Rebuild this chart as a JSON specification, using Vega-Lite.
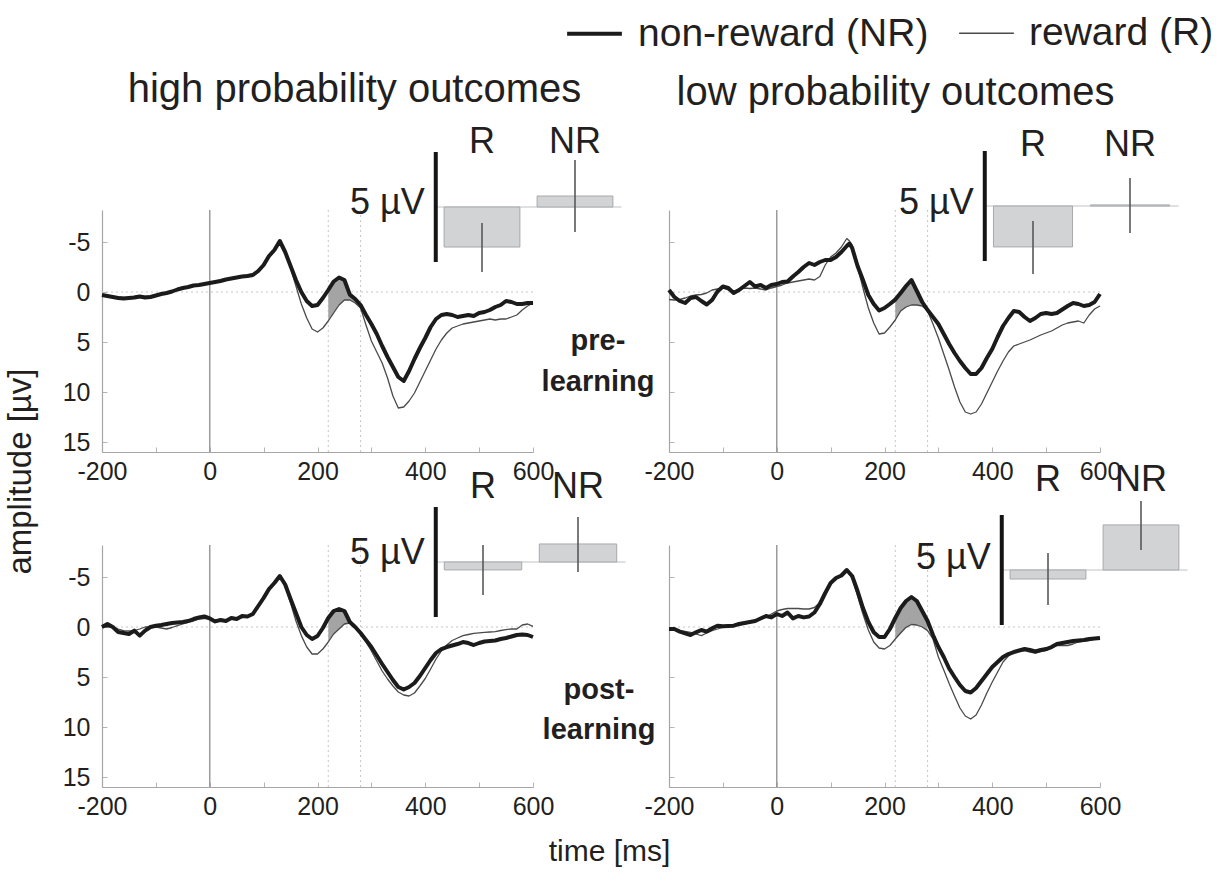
{
  "$schema": "https://vega.github.io/schema/vega-lite/v6.json",
  "background": "white",
  "padding": {"left": 5, "top": 4, "right": 5, "bottom": 0},
  "title": {"text": "time [ms]", "orient": "bottom", "anchor": "middle", "fontSize": 30, "fontWeight": "normal", "offset": 18},
  "datasets": {
    "win": [{"t": 220}, {"t": 280}],
    "insets": [
      {"panel": "TL", "cond": "R", "mean": 1.82, "lo": 0.73, "hi": 2.95},
      {"panel": "TL", "cond": "NR", "mean": -0.5, "lo": -2.14, "hi": 1.14},
      {"panel": "TR", "cond": "R", "mean": 1.86, "lo": 0.68, "hi": 3.09},
      {"panel": "TR", "cond": "NR", "mean": -0.05, "lo": -1.27, "hi": 1.23},
      {"panel": "BL", "cond": "R", "mean": 0.36, "lo": -0.77, "hi": 1.5},
      {"panel": "BL", "cond": "NR", "mean": -0.82, "lo": -2.05, "hi": 0.45},
      {"panel": "BR", "cond": "R", "mean": 0.41, "lo": -0.77, "hi": 1.59},
      {"panel": "BR", "cond": "NR", "mean": -2.05, "lo": -3.14, "hi": -0.91}
    ],
    "TL": [
      {"t": -200, "NR": 0.3, "R": 0.3}, {"t": -190, "NR": 0.4, "R": 0.4}, {"t": -180, "NR": 0.5, "R": 0.5}, {"t": -170, "NR": 0.6, "R": 0.5},
      {"t": -160, "NR": 0.65, "R": 0.55}, {"t": -150, "NR": 0.6, "R": 0.55}, {"t": -140, "NR": 0.55, "R": 0.45}, {"t": -130, "NR": 0.45, "R": 0.4},
      {"t": -120, "NR": 0.55, "R": 0.45}, {"t": -110, "NR": 0.5, "R": 0.4}, {"t": -100, "NR": 0.35, "R": 0.3}, {"t": -90, "NR": 0.2, "R": 0.15},
      {"t": -80, "NR": 0.1, "R": 0.05}, {"t": -70, "NR": -0.05, "R": -0.1}, {"t": -60, "NR": -0.25, "R": -0.25}, {"t": -50, "NR": -0.4, "R": -0.35},
      {"t": -40, "NR": -0.5, "R": -0.5}, {"t": -30, "NR": -0.65, "R": -0.6}, {"t": -20, "NR": -0.7, "R": -0.7}, {"t": -10, "NR": -0.8, "R": -0.8},
      {"t": 0, "NR": -0.9, "R": -0.9}, {"t": 10, "NR": -1.0, "R": -1.05}, {"t": 20, "NR": -1.1, "R": -1.2}, {"t": 30, "NR": -1.25, "R": -1.3},
      {"t": 40, "NR": -1.35, "R": -1.4}, {"t": 50, "NR": -1.45, "R": -1.5}, {"t": 60, "NR": -1.55, "R": -1.6}, {"t": 70, "NR": -1.6, "R": -1.7},
      {"t": 80, "NR": -1.7, "R": -1.8}, {"t": 90, "NR": -2.1, "R": -2.2}, {"t": 100, "NR": -2.7, "R": -2.8}, {"t": 110, "NR": -3.6, "R": -3.6},
      {"t": 120, "NR": -4.2, "R": -4.3}, {"t": 130, "NR": -5.1, "R": -5.0}, {"t": 140, "NR": -4.0, "R": -4.0}, {"t": 150, "NR": -2.6, "R": -2.4},
      {"t": 160, "NR": -1.2, "R": -0.6}, {"t": 170, "NR": 0.0, "R": 1.2}, {"t": 180, "NR": 0.9, "R": 2.6}, {"t": 190, "NR": 1.4, "R": 3.7},
      {"t": 200, "NR": 1.3, "R": 4.0}, {"t": 210, "NR": 0.6, "R": 3.6}, {"t": 220, "NR": -0.2, "R": 2.9}, {"t": 230, "NR": -1.05, "R": 2.1},
      {"t": 240, "NR": -1.45, "R": 1.3}, {"t": 250, "NR": -1.2, "R": 0.8}, {"t": 260, "NR": 0.26, "R": 0.8}, {"t": 270, "NR": 0.7, "R": 1.1},
      {"t": 280, "NR": 1.3, "R": 1.6}, {"t": 290, "NR": 2.3, "R": 3.3}, {"t": 300, "NR": 3.2, "R": 4.9}, {"t": 310, "NR": 4.2, "R": 6.0},
      {"t": 320, "NR": 5.4, "R": 7.1}, {"t": 330, "NR": 6.5, "R": 8.6}, {"t": 340, "NR": 7.5, "R": 10.4}, {"t": 350, "NR": 8.5, "R": 11.6},
      {"t": 360, "NR": 8.9, "R": 11.5}, {"t": 370, "NR": 7.9, "R": 10.9}, {"t": 380, "NR": 6.7, "R": 10.1}, {"t": 390, "NR": 5.6, "R": 9.0},
      {"t": 400, "NR": 4.6, "R": 7.9}, {"t": 410, "NR": 3.5, "R": 6.8}, {"t": 420, "NR": 2.7, "R": 5.7}, {"t": 430, "NR": 2.3, "R": 4.8},
      {"t": 440, "NR": 2.2, "R": 4.1}, {"t": 450, "NR": 2.3, "R": 3.6}, {"t": 460, "NR": 2.5, "R": 3.4}, {"t": 470, "NR": 2.4, "R": 3.2},
      {"t": 480, "NR": 2.3, "R": 3.1}, {"t": 490, "NR": 2.4, "R": 3.0}, {"t": 500, "NR": 2.1, "R": 2.9}, {"t": 510, "NR": 2.0, "R": 2.8},
      {"t": 520, "NR": 1.8, "R": 2.7}, {"t": 530, "NR": 1.5, "R": 2.8}, {"t": 540, "NR": 1.3, "R": 2.7}, {"t": 550, "NR": 0.9, "R": 2.7},
      {"t": 560, "NR": 1.0, "R": 2.5}, {"t": 570, "NR": 1.2, "R": 2.3}, {"t": 580, "NR": 1.2, "R": 1.8}, {"t": 590, "NR": 1.1, "R": 1.4},
      {"t": 600, "NR": 1.1, "R": 1.1}
    ],
    "TR": [
      {"t": -200, "NR": -0.2, "R": 0.75}, {"t": -190, "NR": 0.5, "R": 0.8}, {"t": -180, "NR": 0.9, "R": 0.75}, {"t": -170, "NR": 1.1, "R": 0.6},
      {"t": -160, "NR": 0.6, "R": 0.4}, {"t": -150, "NR": 0.5, "R": 0.3}, {"t": -140, "NR": 0.9, "R": 0.25}, {"t": -130, "NR": 1.25, "R": 0.1},
      {"t": -120, "NR": 0.8, "R": -0.2}, {"t": -110, "NR": -0.05, "R": -0.3}, {"t": -100, "NR": -0.55, "R": -0.4}, {"t": -90, "NR": -0.4, "R": -0.2},
      {"t": -80, "NR": 0.1, "R": -0.05}, {"t": -70, "NR": -0.2, "R": -0.3}, {"t": -60, "NR": -0.6, "R": -0.4}, {"t": -50, "NR": -1.0, "R": -0.35},
      {"t": -40, "NR": -0.55, "R": -0.4}, {"t": -30, "NR": -0.7, "R": -0.3}, {"t": -20, "NR": -0.4, "R": -0.2}, {"t": -10, "NR": -0.7, "R": -0.4},
      {"t": 0, "NR": -0.8, "R": -0.55}, {"t": 10, "NR": -1.0, "R": -0.7}, {"t": 20, "NR": -1.05, "R": -0.9}, {"t": 30, "NR": -1.55, "R": -1.0},
      {"t": 40, "NR": -2.0, "R": -1.1}, {"t": 50, "NR": -2.5, "R": -1.2}, {"t": 60, "NR": -2.9, "R": -1.3}, {"t": 70, "NR": -2.7, "R": -1.2},
      {"t": 80, "NR": -3.0, "R": -1.55}, {"t": 90, "NR": -3.2, "R": -2.7}, {"t": 100, "NR": -3.2, "R": -3.5}, {"t": 110, "NR": -3.5, "R": -3.9},
      {"t": 120, "NR": -4.0, "R": -4.5}, {"t": 130, "NR": -4.6, "R": -5.35}, {"t": 135, "NR": -4.85, "R": -5.1}, {"t": 140, "NR": -4.4, "R": -4.7},
      {"t": 150, "NR": -2.6, "R": -2.5}, {"t": 160, "NR": -1.2, "R": -0.4}, {"t": 170, "NR": 0.3, "R": 1.6}, {"t": 180, "NR": 1.2, "R": 3.1},
      {"t": 190, "NR": 1.85, "R": 4.2}, {"t": 200, "NR": 1.6, "R": 4.1}, {"t": 210, "NR": 1.2, "R": 3.5}, {"t": 220, "NR": 0.76, "R": 2.8},
      {"t": 230, "NR": 0.1, "R": 1.9}, {"t": 240, "NR": -0.6, "R": 1.5}, {"t": 250, "NR": -1.2, "R": 1.3}, {"t": 260, "NR": -0.1, "R": 1.3},
      {"t": 270, "NR": 1.0, "R": 1.4}, {"t": 280, "NR": 1.8, "R": 1.9}, {"t": 290, "NR": 2.5, "R": 3.2}, {"t": 300, "NR": 3.2, "R": 4.6},
      {"t": 310, "NR": 4.2, "R": 6.2}, {"t": 320, "NR": 5.2, "R": 7.8}, {"t": 330, "NR": 6.1, "R": 9.5}, {"t": 340, "NR": 6.9, "R": 11.0},
      {"t": 350, "NR": 7.6, "R": 12.0}, {"t": 360, "NR": 8.2, "R": 12.2}, {"t": 370, "NR": 8.2, "R": 12.0}, {"t": 380, "NR": 7.6, "R": 11.2},
      {"t": 390, "NR": 6.6, "R": 10.1}, {"t": 400, "NR": 5.7, "R": 9.0}, {"t": 410, "NR": 4.5, "R": 7.9}, {"t": 420, "NR": 3.4, "R": 6.9},
      {"t": 430, "NR": 2.6, "R": 6.0}, {"t": 440, "NR": 1.9, "R": 5.4}, {"t": 450, "NR": 2.0, "R": 5.2}, {"t": 460, "NR": 2.5, "R": 5.0},
      {"t": 470, "NR": 2.9, "R": 4.8}, {"t": 480, "NR": 2.6, "R": 4.55}, {"t": 490, "NR": 2.2, "R": 4.3}, {"t": 500, "NR": 2.1, "R": 4.1},
      {"t": 510, "NR": 2.2, "R": 3.9}, {"t": 520, "NR": 2.1, "R": 3.6}, {"t": 530, "NR": 1.75, "R": 3.3}, {"t": 540, "NR": 1.4, "R": 3.1},
      {"t": 550, "NR": 1.1, "R": 3.0}, {"t": 560, "NR": 1.2, "R": 2.9}, {"t": 570, "NR": 1.4, "R": 3.1}, {"t": 580, "NR": 1.3, "R": 2.3},
      {"t": 590, "NR": 1.0, "R": 1.7}, {"t": 600, "NR": 0.2, "R": 1.4}
    ],
    "BL": [
      {"t": -200, "NR": 0.0, "R": 0.0}, {"t": -190, "NR": -0.3, "R": 0.0}, {"t": -180, "NR": 0.0, "R": 0.0}, {"t": -170, "NR": 0.5, "R": 0.2},
      {"t": -160, "NR": 0.6, "R": 0.36}, {"t": -150, "NR": 0.7, "R": 0.4}, {"t": -140, "NR": 0.36, "R": 0.36}, {"t": -130, "NR": 0.86, "R": 0.2},
      {"t": -120, "NR": 0.36, "R": 0.0}, {"t": -110, "NR": 0.0, "R": 0.0}, {"t": -100, "NR": -0.13, "R": 0.0}, {"t": -90, "NR": -0.2, "R": 0.1},
      {"t": -80, "NR": -0.3, "R": 0.2}, {"t": -70, "NR": -0.4, "R": 0.05}, {"t": -60, "NR": -0.46, "R": -0.13}, {"t": -50, "NR": -0.5, "R": -0.3},
      {"t": -40, "NR": -0.6, "R": -0.46}, {"t": -30, "NR": -0.8, "R": -0.6}, {"t": -20, "NR": -0.95, "R": -0.8}, {"t": -10, "NR": -1.05, "R": -0.85},
      {"t": 0, "NR": -0.86, "R": -0.86}, {"t": 10, "NR": -0.56, "R": -0.7}, {"t": 20, "NR": -0.7, "R": -0.6}, {"t": 30, "NR": -0.6, "R": -0.7},
      {"t": 40, "NR": -0.9, "R": -0.8}, {"t": 50, "NR": -0.8, "R": -0.9}, {"t": 60, "NR": -1.1, "R": -0.95}, {"t": 70, "NR": -1.05, "R": -1.1},
      {"t": 80, "NR": -1.3, "R": -1.3}, {"t": 90, "NR": -2.1, "R": -1.95}, {"t": 100, "NR": -2.9, "R": -3.1}, {"t": 110, "NR": -3.8, "R": -3.9},
      {"t": 120, "NR": -4.4, "R": -4.4}, {"t": 130, "NR": -5.1, "R": -5.0}, {"t": 140, "NR": -4.25, "R": -4.1}, {"t": 150, "NR": -2.8, "R": -2.4},
      {"t": 160, "NR": -1.4, "R": -0.6}, {"t": 170, "NR": 0.0, "R": 0.86}, {"t": 180, "NR": 0.8, "R": 2.0}, {"t": 190, "NR": 1.2, "R": 2.7},
      {"t": 200, "NR": 0.9, "R": 2.7}, {"t": 210, "NR": 0.1, "R": 2.2}, {"t": 220, "NR": -0.9, "R": 1.5}, {"t": 230, "NR": -1.6, "R": 0.7},
      {"t": 240, "NR": -1.8, "R": 0.2}, {"t": 250, "NR": -1.6, "R": -0.3}, {"t": 260, "NR": -0.5, "R": -0.4}, {"t": 270, "NR": 0.0, "R": 0.1},
      {"t": 280, "NR": 0.6, "R": 0.7}, {"t": 290, "NR": 1.3, "R": 1.5}, {"t": 300, "NR": 2.0, "R": 2.4}, {"t": 310, "NR": 2.85, "R": 3.4},
      {"t": 320, "NR": 3.7, "R": 4.4}, {"t": 330, "NR": 4.5, "R": 5.2}, {"t": 340, "NR": 5.3, "R": 5.9}, {"t": 350, "NR": 6.0, "R": 6.5},
      {"t": 360, "NR": 6.25, "R": 6.8}, {"t": 370, "NR": 6.0, "R": 6.9}, {"t": 380, "NR": 5.6, "R": 6.6}, {"t": 390, "NR": 4.9, "R": 5.9},
      {"t": 400, "NR": 4.1, "R": 5.15}, {"t": 410, "NR": 3.3, "R": 4.2}, {"t": 420, "NR": 2.6, "R": 3.2}, {"t": 430, "NR": 2.2, "R": 2.4},
      {"t": 440, "NR": 2.0, "R": 1.8}, {"t": 450, "NR": 1.85, "R": 1.35}, {"t": 460, "NR": 1.7, "R": 1.1}, {"t": 470, "NR": 1.5, "R": 0.86},
      {"t": 480, "NR": 1.6, "R": 0.75}, {"t": 490, "NR": 1.8, "R": 0.63}, {"t": 500, "NR": 1.6, "R": 0.58}, {"t": 510, "NR": 1.45, "R": 0.53},
      {"t": 520, "NR": 1.4, "R": 0.5}, {"t": 530, "NR": 1.35, "R": 0.46}, {"t": 540, "NR": 1.2, "R": 0.35}, {"t": 550, "NR": 1.1, "R": 0.26},
      {"t": 560, "NR": 0.95, "R": 0.2}, {"t": 570, "NR": 0.8, "R": 0.2}, {"t": 580, "NR": 0.75, "R": -0.2}, {"t": 590, "NR": 0.8, "R": -0.3},
      {"t": 600, "NR": 1.0, "R": -0.07}
    ],
    "BR": [
      {"t": -200, "NR": 0.2, "R": 0.2}, {"t": -190, "NR": 0.2, "R": 0.3}, {"t": -180, "NR": 0.46, "R": 0.36}, {"t": -170, "NR": 0.63, "R": 0.45},
      {"t": -160, "NR": 0.8, "R": 0.53}, {"t": -150, "NR": 0.53, "R": 0.7}, {"t": -140, "NR": 0.3, "R": 0.86}, {"t": -130, "NR": 0.46, "R": 0.6},
      {"t": -120, "NR": 0.13, "R": 0.36}, {"t": -110, "NR": -0.13, "R": 0.2}, {"t": -100, "NR": -0.07, "R": 0.03}, {"t": -90, "NR": -0.1, "R": -0.05},
      {"t": -80, "NR": -0.13, "R": -0.13}, {"t": -70, "NR": -0.3, "R": -0.2}, {"t": -60, "NR": -0.4, "R": -0.3}, {"t": -50, "NR": -0.5, "R": -0.45},
      {"t": -40, "NR": -0.6, "R": -0.6}, {"t": -30, "NR": -0.85, "R": -0.8}, {"t": -20, "NR": -1.1, "R": -0.96}, {"t": -10, "NR": -0.96, "R": -1.3},
      {"t": 0, "NR": -1.3, "R": -1.6}, {"t": 10, "NR": -1.1, "R": -1.75}, {"t": 20, "NR": -1.45, "R": -1.85}, {"t": 30, "NR": -0.86, "R": -1.85},
      {"t": 40, "NR": -1.1, "R": -1.85}, {"t": 50, "NR": -0.96, "R": -1.8}, {"t": 60, "NR": -1.05, "R": -1.8}, {"t": 70, "NR": -1.45, "R": -1.95},
      {"t": 80, "NR": -2.3, "R": -2.45}, {"t": 90, "NR": -3.4, "R": -3.4}, {"t": 100, "NR": -4.4, "R": -4.4}, {"t": 110, "NR": -4.9, "R": -4.9},
      {"t": 120, "NR": -5.15, "R": -5.25}, {"t": 130, "NR": -5.7, "R": -5.6}, {"t": 140, "NR": -5.1, "R": -4.9}, {"t": 150, "NR": -3.6, "R": -3.1},
      {"t": 160, "NR": -1.9, "R": -1.3}, {"t": 170, "NR": -0.5, "R": 0.3}, {"t": 180, "NR": 0.53, "R": 1.5}, {"t": 190, "NR": 1.0, "R": 2.1},
      {"t": 200, "NR": 1.0, "R": 2.2}, {"t": 210, "NR": 0.2, "R": 1.85}, {"t": 220, "NR": -0.9, "R": 1.2}, {"t": 230, "NR": -1.9, "R": 0.6},
      {"t": 240, "NR": -2.6, "R": 0.03}, {"t": 250, "NR": -3.0, "R": -0.25}, {"t": 260, "NR": -2.6, "R": -0.2}, {"t": 270, "NR": -1.6, "R": 0.0},
      {"t": 280, "NR": -0.6, "R": 0.36}, {"t": 290, "NR": 0.8, "R": 1.2}, {"t": 300, "NR": 2.0, "R": 3.0}, {"t": 310, "NR": 3.0, "R": 4.3},
      {"t": 320, "NR": 4.15, "R": 5.65}, {"t": 330, "NR": 5.0, "R": 6.9}, {"t": 340, "NR": 5.8, "R": 8.1}, {"t": 350, "NR": 6.4, "R": 8.9},
      {"t": 360, "NR": 6.55, "R": 9.2}, {"t": 370, "NR": 6.1, "R": 8.8}, {"t": 380, "NR": 5.4, "R": 7.8}, {"t": 390, "NR": 4.7, "R": 6.6},
      {"t": 400, "NR": 4.0, "R": 5.5}, {"t": 410, "NR": 3.5, "R": 4.5}, {"t": 420, "NR": 3.0, "R": 3.5}, {"t": 430, "NR": 2.7, "R": 2.9},
      {"t": 440, "NR": 2.5, "R": 2.5}, {"t": 450, "NR": 2.35, "R": 2.4}, {"t": 460, "NR": 2.2, "R": 2.35}, {"t": 470, "NR": 2.3, "R": 2.5},
      {"t": 480, "NR": 2.45, "R": 2.6}, {"t": 490, "NR": 2.3, "R": 2.45}, {"t": 500, "NR": 2.2, "R": 2.35}, {"t": 510, "NR": 2.0, "R": 2.1},
      {"t": 520, "NR": 1.7, "R": 1.85}, {"t": 530, "NR": 1.6, "R": 1.85}, {"t": 540, "NR": 1.5, "R": 1.85}, {"t": 550, "NR": 1.4, "R": 1.7},
      {"t": 560, "NR": 1.35, "R": 1.5}, {"t": 570, "NR": 1.3, "R": 1.4}, {"t": 580, "NR": 1.2, "R": 1.35}, {"t": 590, "NR": 1.15, "R": 1.2},
      {"t": 600, "NR": 1.1, "R": 1.1}
    ]
  },
  "vconcat": [
    {
      "title": {"text": "amplitude [µv]", "orient": "left", "anchor": "middle", "fontSize": 33, "fontWeight": "normal", "offset": 24, "dx": -27},
      "columns": 2,
      "spacing": {"row": 93, "column": 136},
      "bounds": "flush",
      "concat": [
        {
          "width": 431, "height": 242,
          "title": {"text": "high probability outcomes", "dx": 37, "frame": "group", "offset": 14},
          "resolve": {"scale": {"x": "independent", "y": "independent"}},
          "layer": [
            {"layer": [
              {"data": {"name": "win"}, "mark": {"type": "rule", "strokeDash": [2, 3], "color": "#c6c6c6", "strokeWidth": 1},
               "encoding": {"x": {"field": "t", "type": "quantitative", "scale": {"domain": [-200, 600], "nice": false, "zero": false},
                 "axis": {"values": [-200, -100, 0, 100, 200, 300, 400, 500, 600], "labelExpr": "datum.value % 200 == 0 ? '' + datum.value : ''", "title": null, "labelFlush": false, "labelOverlap": false, "labelPadding": 12}}}},
              {"data": {"values": [{}]}, "mark": {"type": "rule", "strokeDash": [2, 3], "color": "#c6c6c6", "strokeWidth": 1},
               "encoding": {"y": {"datum": 0, "type": "quantitative", "scale": {"domain": [-8.2, 16], "reverse": true, "nice": false, "zero": false},
                 "axis": {"values": [-5, 0, 5, 10, 15], "labelExpr": "'' + datum.value", "title": null, "labelPadding": 17}}}},
              {"data": {"values": [{}]}, "mark": {"type": "rule", "color": "#9b9b9b", "strokeWidth": 1.5},
               "encoding": {"x": {"datum": 0, "type": "quantitative"}}},
              {"data": {"name": "TL"}, "transform": [{"filter": {"field": "t", "range": [220, 280]}}],
               "mark": {"type": "area", "color": "#a4a4a4"},
               "encoding": {"x": {"field": "t", "type": "quantitative"}, "y": {"field": "NR", "type": "quantitative"}, "y2": {"field": "R"}}},
              {"data": {"name": "TL"}, "transform": [{"fold": ["NR", "R"], "as": ["cond", "amp"]}, {"filter": "datum.cond == 'R'"}],
               "mark": {"type": "line", "strokeJoin": "round"},
               "encoding": {"x": {"field": "t", "type": "quantitative"}, "y": {"field": "amp", "type": "quantitative"},
                 "color": {"field": "cond", "type": "nominal", "scale": {"domain": ["NR", "R"], "range": ["#1b1b1b", "#4a4a4a"]}, "legend": {"title": null, "labelExpr": "datum.label == 'NR' ? 'non-reward (NR)' : 'reward (R)'", "encode": {"symbols": {"update": {"strokeWidth": {"signal": "datum.value === 'NR' ? 7 : 1.5"}}}}}},
                 "strokeWidth": {"field": "cond", "type": "ordinal", "scale": {"type": "ordinal", "domain": ["NR", "R"], "range": [4, 1.3]}, "legend": {"title": null, "labelExpr": "datum.label == 'NR' ? 'non-reward (NR)' : 'reward (R)'", "encode": {"symbols": {"update": {"strokeWidth": {"signal": "datum.value === 'NR' ? 7 : 1.5"}}}}}}}},
              {"data": {"name": "TL"}, "transform": [{"fold": ["NR", "R"], "as": ["cond", "amp"]}, {"filter": "datum.cond == 'NR'"}],
               "mark": {"type": "line", "strokeJoin": "round"},
               "encoding": {"x": {"field": "t", "type": "quantitative"}, "y": {"field": "amp", "type": "quantitative"},
                 "color": {"field": "cond", "type": "nominal", "scale": {"domain": ["NR", "R"], "range": ["#1b1b1b", "#4a4a4a"]}, "legend": {"title": null, "labelExpr": "datum.label == 'NR' ? 'non-reward (NR)' : 'reward (R)'", "encode": {"symbols": {"update": {"strokeWidth": {"signal": "datum.value === 'NR' ? 7 : 1.5"}}}}}},
                 "strokeWidth": {"field": "cond", "type": "ordinal", "scale": {"type": "ordinal", "domain": ["NR", "R"], "range": [4, 1.3]}, "legend": {"title": null, "labelExpr": "datum.label == 'NR' ? 'non-reward (NR)' : 'reward (R)'", "encode": {"symbols": {"update": {"strokeWidth": {"signal": "datum.value === 'NR' ? 7 : 1.5"}}}}}}}}
            ]},
            {"data": {"name": "insets"}, "transform": [{"filter": "datum.panel == 'TL'"}],
             "layer": [
              {"mark": {"type": "tick", "color": "#a7a9ac", "thickness": 1, "size": 93},
               "encoding": {"x": {"field": "cond", "type": "nominal", "axis": null, "scale": {"domain": ["R", "NR"], "range": [333.5, 519.5], "paddingInner": 0.185, "paddingOuter": 0.0925}},
                 "y": {"datum": 0, "type": "quantitative", "axis": null, "scale": {"domain": [-2.5, 2.5], "range": [-58, 52], "nice": false, "zero": false}}}},
              {"mark": {"type": "bar", "fill": "#d1d3d4", "stroke": "#a7a9ac", "strokeWidth": 1},
               "encoding": {"x": {"field": "cond", "type": "nominal", "axis": null}, "y": {"field": "mean", "type": "quantitative", "axis": null}, "y2": {"datum": 0}}},
              {"mark": {"type": "rule", "color": "#58595b", "strokeWidth": 1.6},
               "encoding": {"x": {"field": "cond", "type": "nominal", "axis": null}, "y": {"field": "lo", "type": "quantitative", "axis": null}, "y2": {"field": "hi"}}},
              {"mark": {"type": "text", "fontSize": 36, "color": "#231f20", "baseline": "middle"},
               "encoding": {"x": {"field": "cond", "type": "nominal", "axis": null}, "y": {"datum": -2.95, "type": "quantitative", "axis": null}, "text": {"field": "cond"}}},
              {"transform": [{"filter": "datum.cond == 'R'"}], "mark": {"type": "rule", "color": "#151515", "strokeWidth": 4},
               "encoding": {"x": {"datum": "R", "type": "nominal", "bandPosition": -0.11, "axis": null}, "y": {"datum": -2.5, "type": "quantitative", "axis": null}, "y2": {"datum": 2.5}}},
              {"transform": [{"filter": "datum.cond == 'R'"}], "mark": {"type": "text", "align": "right", "baseline": "middle", "dx": -11, "fontSize": 36, "color": "#231f20"},
               "encoding": {"x": {"datum": "R", "type": "nominal", "bandPosition": -0.11, "axis": null}, "y": {"datum": -0.2, "type": "quantitative", "axis": null}, "text": {"value": "5 µV"}}}
             ]}
          ]
        },
        {
          "width": 431, "height": 242,
          "title": {"text": "low probability outcomes", "dx": 11, "frame": "group", "offset": 14},
          "resolve": {"scale": {"x": "independent", "y": "independent"}},
          "layer": [
            {"layer": [
              {"data": {"name": "win"}, "mark": {"type": "rule", "strokeDash": [2, 3], "color": "#c6c6c6", "strokeWidth": 1},
               "encoding": {"x": {"field": "t", "type": "quantitative", "scale": {"domain": [-200, 600], "nice": false, "zero": false},
                 "axis": {"values": [-200, -100, 0, 100, 200, 300, 400, 500, 600], "labelExpr": "datum.value % 200 == 0 ? '' + datum.value : ''", "title": null, "labelFlush": false, "labelOverlap": false, "labelPadding": 12}}}},
              {"data": {"values": [{}]}, "mark": {"type": "rule", "strokeDash": [2, 3], "color": "#c6c6c6", "strokeWidth": 1},
               "encoding": {"y": {"datum": 0, "type": "quantitative", "scale": {"domain": [-8.2, 16], "reverse": true, "nice": false, "zero": false},
                 "axis": {"values": [-5, 0, 5, 10, 15], "labels": false, "title": ["pre-", "learning"], "titleAngle": 0, "titleAlign": "center", "titleBaseline": "top", "titleFontSize": 29, "titleFontWeight": "bold", "titleColor": "#231f20", "titleLineHeight": 41, "titlePadding": 30, "titleY": 116}}}},
              {"data": {"values": [{}]}, "mark": {"type": "rule", "color": "#9b9b9b", "strokeWidth": 1.5},
               "encoding": {"x": {"datum": 0, "type": "quantitative"}}},
              {"data": {"name": "TR"}, "transform": [{"filter": {"field": "t", "range": [220, 280]}}],
               "mark": {"type": "area", "color": "#a4a4a4"},
               "encoding": {"x": {"field": "t", "type": "quantitative"}, "y": {"field": "NR", "type": "quantitative"}, "y2": {"field": "R"}}},
              {"data": {"name": "TR"}, "transform": [{"fold": ["NR", "R"], "as": ["cond", "amp"]}, {"filter": "datum.cond == 'R'"}],
               "mark": {"type": "line", "strokeJoin": "round"},
               "encoding": {"x": {"field": "t", "type": "quantitative"}, "y": {"field": "amp", "type": "quantitative"},
                 "color": {"field": "cond", "type": "nominal", "scale": {"domain": ["NR", "R"], "range": ["#1b1b1b", "#4a4a4a"]}, "legend": {"title": null, "labelExpr": "datum.label == 'NR' ? 'non-reward (NR)' : 'reward (R)'", "encode": {"symbols": {"update": {"strokeWidth": {"signal": "datum.value === 'NR' ? 7 : 1.5"}}}}}},
                 "strokeWidth": {"field": "cond", "type": "ordinal", "scale": {"type": "ordinal", "domain": ["NR", "R"], "range": [4, 1.3]}, "legend": {"title": null, "labelExpr": "datum.label == 'NR' ? 'non-reward (NR)' : 'reward (R)'", "encode": {"symbols": {"update": {"strokeWidth": {"signal": "datum.value === 'NR' ? 7 : 1.5"}}}}}}}},
              {"data": {"name": "TR"}, "transform": [{"fold": ["NR", "R"], "as": ["cond", "amp"]}, {"filter": "datum.cond == 'NR'"}],
               "mark": {"type": "line", "strokeJoin": "round"},
               "encoding": {"x": {"field": "t", "type": "quantitative"}, "y": {"field": "amp", "type": "quantitative"},
                 "color": {"field": "cond", "type": "nominal", "scale": {"domain": ["NR", "R"], "range": ["#1b1b1b", "#4a4a4a"]}, "legend": {"title": null, "labelExpr": "datum.label == 'NR' ? 'non-reward (NR)' : 'reward (R)'", "encode": {"symbols": {"update": {"strokeWidth": {"signal": "datum.value === 'NR' ? 7 : 1.5"}}}}}},
                 "strokeWidth": {"field": "cond", "type": "ordinal", "scale": {"type": "ordinal", "domain": ["NR", "R"], "range": [4, 1.3]}, "legend": {"title": null, "labelExpr": "datum.label == 'NR' ? 'non-reward (NR)' : 'reward (R)'", "encode": {"symbols": {"update": {"strokeWidth": {"signal": "datum.value === 'NR' ? 7 : 1.5"}}}}}}}}
            ]},
            {"data": {"name": "insets"}, "transform": [{"filter": "datum.panel == 'TR'"}],
             "layer": [
              {"mark": {"type": "tick", "color": "#a7a9ac", "thickness": 1, "size": 97},
               "encoding": {"x": {"field": "cond", "type": "nominal", "axis": null, "scale": {"domain": ["R", "NR"], "range": [315.5, 509.5], "paddingInner": 0.185, "paddingOuter": 0.0925}},
                 "y": {"datum": 0, "type": "quantitative", "axis": null, "scale": {"domain": [-2.5, 2.5], "range": [-59, 51], "nice": false, "zero": false}}}},
              {"mark": {"type": "bar", "fill": "#d1d3d4", "stroke": "#a7a9ac", "strokeWidth": 1},
               "encoding": {"x": {"field": "cond", "type": "nominal", "axis": null}, "y": {"field": "mean", "type": "quantitative", "axis": null}, "y2": {"datum": 0}}},
              {"mark": {"type": "rule", "color": "#58595b", "strokeWidth": 1.6},
               "encoding": {"x": {"field": "cond", "type": "nominal", "axis": null}, "y": {"field": "lo", "type": "quantitative", "axis": null}, "y2": {"field": "hi"}}},
              {"mark": {"type": "text", "fontSize": 36, "color": "#231f20", "baseline": "middle"},
               "encoding": {"x": {"field": "cond", "type": "nominal", "axis": null}, "y": {"datum": -2.77, "type": "quantitative", "axis": null}, "text": {"field": "cond"}}},
              {"transform": [{"filter": "datum.cond == 'R'"}], "mark": {"type": "rule", "color": "#151515", "strokeWidth": 4},
               "encoding": {"x": {"datum": "R", "type": "nominal", "bandPosition": -0.11, "axis": null}, "y": {"datum": -2.5, "type": "quantitative", "axis": null}, "y2": {"datum": 2.5}}},
              {"transform": [{"filter": "datum.cond == 'R'"}], "mark": {"type": "text", "align": "right", "baseline": "middle", "dx": -11, "fontSize": 36, "color": "#231f20"},
               "encoding": {"x": {"datum": "R", "type": "nominal", "bandPosition": -0.11, "axis": null}, "y": {"datum": -0.15, "type": "quantitative", "axis": null}, "text": {"value": "5 µV"}}}
             ]}
          ]
        },
        {
          "width": 431, "height": 242,
          "resolve": {"scale": {"x": "independent", "y": "independent"}},
          "layer": [
            {"layer": [
              {"data": {"name": "win"}, "mark": {"type": "rule", "strokeDash": [2, 3], "color": "#c6c6c6", "strokeWidth": 1},
               "encoding": {"x": {"field": "t", "type": "quantitative", "scale": {"domain": [-200, 600], "nice": false, "zero": false},
                 "axis": {"values": [-200, -100, 0, 100, 200, 300, 400, 500, 600], "labelExpr": "datum.value % 200 == 0 ? '' + datum.value : ''", "title": null, "labelFlush": false, "labelOverlap": false, "labelPadding": 12}}}},
              {"data": {"values": [{}]}, "mark": {"type": "rule", "strokeDash": [2, 3], "color": "#c6c6c6", "strokeWidth": 1},
               "encoding": {"y": {"datum": 0, "type": "quantitative", "scale": {"domain": [-8.2, 16], "reverse": true, "nice": false, "zero": false},
                 "axis": {"values": [-5, 0, 5, 10, 15], "labelExpr": "'' + datum.value", "title": null, "labelPadding": 17}}}},
              {"data": {"values": [{}]}, "mark": {"type": "rule", "color": "#9b9b9b", "strokeWidth": 1.5},
               "encoding": {"x": {"datum": 0, "type": "quantitative"}}},
              {"data": {"name": "BL"}, "transform": [{"filter": {"field": "t", "range": [220, 280]}}],
               "mark": {"type": "area", "color": "#a4a4a4"},
               "encoding": {"x": {"field": "t", "type": "quantitative"}, "y": {"field": "NR", "type": "quantitative"}, "y2": {"field": "R"}}},
              {"data": {"name": "BL"}, "transform": [{"fold": ["NR", "R"], "as": ["cond", "amp"]}, {"filter": "datum.cond == 'R'"}],
               "mark": {"type": "line", "strokeJoin": "round"},
               "encoding": {"x": {"field": "t", "type": "quantitative"}, "y": {"field": "amp", "type": "quantitative"},
                 "color": {"field": "cond", "type": "nominal", "scale": {"domain": ["NR", "R"], "range": ["#1b1b1b", "#4a4a4a"]}, "legend": {"title": null, "labelExpr": "datum.label == 'NR' ? 'non-reward (NR)' : 'reward (R)'", "encode": {"symbols": {"update": {"strokeWidth": {"signal": "datum.value === 'NR' ? 7 : 1.5"}}}}}},
                 "strokeWidth": {"field": "cond", "type": "ordinal", "scale": {"type": "ordinal", "domain": ["NR", "R"], "range": [4, 1.3]}, "legend": {"title": null, "labelExpr": "datum.label == 'NR' ? 'non-reward (NR)' : 'reward (R)'", "encode": {"symbols": {"update": {"strokeWidth": {"signal": "datum.value === 'NR' ? 7 : 1.5"}}}}}}}},
              {"data": {"name": "BL"}, "transform": [{"fold": ["NR", "R"], "as": ["cond", "amp"]}, {"filter": "datum.cond == 'NR'"}],
               "mark": {"type": "line", "strokeJoin": "round"},
               "encoding": {"x": {"field": "t", "type": "quantitative"}, "y": {"field": "amp", "type": "quantitative"},
                 "color": {"field": "cond", "type": "nominal", "scale": {"domain": ["NR", "R"], "range": ["#1b1b1b", "#4a4a4a"]}, "legend": {"title": null, "labelExpr": "datum.label == 'NR' ? 'non-reward (NR)' : 'reward (R)'", "encode": {"symbols": {"update": {"strokeWidth": {"signal": "datum.value === 'NR' ? 7 : 1.5"}}}}}},
                 "strokeWidth": {"field": "cond", "type": "ordinal", "scale": {"type": "ordinal", "domain": ["NR", "R"], "range": [4, 1.3]}, "legend": {"title": null, "labelExpr": "datum.label == 'NR' ? 'non-reward (NR)' : 'reward (R)'", "encode": {"symbols": {"update": {"strokeWidth": {"signal": "datum.value === 'NR' ? 7 : 1.5"}}}}}}}}
            ]},
            {"data": {"name": "insets"}, "transform": [{"filter": "datum.panel == 'BL'"}],
             "layer": [
              {"mark": {"type": "tick", "color": "#a7a9ac", "thickness": 1, "size": 95},
               "encoding": {"x": {"field": "cond", "type": "nominal", "axis": null, "scale": {"domain": ["R", "NR"], "range": [333.5, 523.5], "paddingInner": 0.185, "paddingOuter": 0.0925}},
                 "y": {"datum": 0, "type": "quantitative", "axis": null, "scale": {"domain": [-2.5, 2.5], "range": [-38, 72], "nice": false, "zero": false}}}},
              {"mark": {"type": "bar", "fill": "#d1d3d4", "stroke": "#a7a9ac", "strokeWidth": 1},
               "encoding": {"x": {"field": "cond", "type": "nominal", "axis": null}, "y": {"field": "mean", "type": "quantitative", "axis": null}, "y2": {"datum": 0}}},
              {"mark": {"type": "rule", "color": "#58595b", "strokeWidth": 1.6},
               "encoding": {"x": {"field": "cond", "type": "nominal", "axis": null}, "y": {"field": "lo", "type": "quantitative", "axis": null}, "y2": {"field": "hi"}}},
              {"mark": {"type": "text", "fontSize": 36, "color": "#231f20", "baseline": "middle"},
               "encoding": {"x": {"field": "cond", "type": "nominal", "axis": null}, "y": {"datum": -3.4, "type": "quantitative", "axis": null}, "text": {"field": "cond"}}},
              {"transform": [{"filter": "datum.cond == 'R'"}], "mark": {"type": "rule", "color": "#151515", "strokeWidth": 4},
               "encoding": {"x": {"datum": "R", "type": "nominal", "bandPosition": -0.11, "axis": null}, "y": {"datum": -2.5, "type": "quantitative", "axis": null}, "y2": {"datum": 2.5}}},
              {"transform": [{"filter": "datum.cond == 'R'"}], "mark": {"type": "text", "align": "right", "baseline": "middle", "dx": -11, "fontSize": 36, "color": "#231f20"},
               "encoding": {"x": {"datum": "R", "type": "nominal", "bandPosition": -0.11, "axis": null}, "y": {"datum": -0.4, "type": "quantitative", "axis": null}, "text": {"value": "5 µV"}}}
             ]}
          ]
        },
        {
          "width": 431, "height": 242,
          "resolve": {"scale": {"x": "independent", "y": "independent"}},
          "layer": [
            {"layer": [
              {"data": {"name": "win"}, "mark": {"type": "rule", "strokeDash": [2, 3], "color": "#c6c6c6", "strokeWidth": 1},
               "encoding": {"x": {"field": "t", "type": "quantitative", "scale": {"domain": [-200, 600], "nice": false, "zero": false},
                 "axis": {"values": [-200, -100, 0, 100, 200, 300, 400, 500, 600], "labelExpr": "datum.value % 200 == 0 ? '' + datum.value : ''", "title": null, "labelFlush": false, "labelOverlap": false, "labelPadding": 12}}}},
              {"data": {"values": [{}]}, "mark": {"type": "rule", "strokeDash": [2, 3], "color": "#c6c6c6", "strokeWidth": 1},
               "encoding": {"y": {"datum": 0, "type": "quantitative", "scale": {"domain": [-8.2, 16], "reverse": true, "nice": false, "zero": false},
                 "axis": {"values": [-5, 0, 5, 10, 15], "labels": false, "title": ["post-", "learning"], "titleAngle": 0, "titleAlign": "center", "titleBaseline": "top", "titleFontSize": 29, "titleFontWeight": "bold", "titleColor": "#231f20", "titleLineHeight": 40, "titlePadding": 30, "titleY": 130}}}},
              {"data": {"values": [{}]}, "mark": {"type": "rule", "color": "#9b9b9b", "strokeWidth": 1.5},
               "encoding": {"x": {"datum": 0, "type": "quantitative"}}},
              {"data": {"name": "BR"}, "transform": [{"filter": {"field": "t", "range": [220, 280]}}],
               "mark": {"type": "area", "color": "#a4a4a4"},
               "encoding": {"x": {"field": "t", "type": "quantitative"}, "y": {"field": "NR", "type": "quantitative"}, "y2": {"field": "R"}}},
              {"data": {"name": "BR"}, "transform": [{"fold": ["NR", "R"], "as": ["cond", "amp"]}, {"filter": "datum.cond == 'R'"}],
               "mark": {"type": "line", "strokeJoin": "round"},
               "encoding": {"x": {"field": "t", "type": "quantitative"}, "y": {"field": "amp", "type": "quantitative"},
                 "color": {"field": "cond", "type": "nominal", "scale": {"domain": ["NR", "R"], "range": ["#1b1b1b", "#4a4a4a"]}, "legend": {"title": null, "labelExpr": "datum.label == 'NR' ? 'non-reward (NR)' : 'reward (R)'", "encode": {"symbols": {"update": {"strokeWidth": {"signal": "datum.value === 'NR' ? 7 : 1.5"}}}}}},
                 "strokeWidth": {"field": "cond", "type": "ordinal", "scale": {"type": "ordinal", "domain": ["NR", "R"], "range": [4, 1.3]}, "legend": {"title": null, "labelExpr": "datum.label == 'NR' ? 'non-reward (NR)' : 'reward (R)'", "encode": {"symbols": {"update": {"strokeWidth": {"signal": "datum.value === 'NR' ? 7 : 1.5"}}}}}}}},
              {"data": {"name": "BR"}, "transform": [{"fold": ["NR", "R"], "as": ["cond", "amp"]}, {"filter": "datum.cond == 'NR'"}],
               "mark": {"type": "line", "strokeJoin": "round"},
               "encoding": {"x": {"field": "t", "type": "quantitative"}, "y": {"field": "amp", "type": "quantitative"},
                 "color": {"field": "cond", "type": "nominal", "scale": {"domain": ["NR", "R"], "range": ["#1b1b1b", "#4a4a4a"]}, "legend": {"title": null, "labelExpr": "datum.label == 'NR' ? 'non-reward (NR)' : 'reward (R)'", "encode": {"symbols": {"update": {"strokeWidth": {"signal": "datum.value === 'NR' ? 7 : 1.5"}}}}}},
                 "strokeWidth": {"field": "cond", "type": "ordinal", "scale": {"type": "ordinal", "domain": ["NR", "R"], "range": [4, 1.3]}, "legend": {"title": null, "labelExpr": "datum.label == 'NR' ? 'non-reward (NR)' : 'reward (R)'", "encode": {"symbols": {"update": {"strokeWidth": {"signal": "datum.value === 'NR' ? 7 : 1.5"}}}}}}}}
            ]},
            {"data": {"name": "insets"}, "transform": [{"filter": "datum.panel == 'BR'"}],
             "layer": [
              {"mark": {"type": "tick", "color": "#a7a9ac", "thickness": 1, "size": 93},
               "encoding": {"x": {"field": "cond", "type": "nominal", "axis": null, "scale": {"domain": ["R", "NR"], "range": [332.5, 518.5], "paddingInner": 0.185, "paddingOuter": 0.0925}},
                 "y": {"datum": 0, "type": "quantitative", "axis": null, "scale": {"domain": [-2.5, 2.5], "range": [-30, 80], "nice": false, "zero": false}}}},
              {"mark": {"type": "bar", "fill": "#d1d3d4", "stroke": "#a7a9ac", "strokeWidth": 1},
               "encoding": {"x": {"field": "cond", "type": "nominal", "axis": null}, "y": {"field": "mean", "type": "quantitative", "axis": null}, "y2": {"datum": 0}}},
              {"mark": {"type": "rule", "color": "#58595b", "strokeWidth": 1.6},
               "encoding": {"x": {"field": "cond", "type": "nominal", "axis": null}, "y": {"field": "lo", "type": "quantitative", "axis": null}, "y2": {"field": "hi"}}},
              {"mark": {"type": "text", "fontSize": 36, "color": "#231f20", "baseline": "middle"},
               "encoding": {"x": {"field": "cond", "type": "nominal", "axis": null}, "y": {"datum": -4.1, "type": "quantitative", "axis": null}, "text": {"field": "cond"}}},
              {"transform": [{"filter": "datum.cond == 'R'"}], "mark": {"type": "rule", "color": "#151515", "strokeWidth": 4},
               "encoding": {"x": {"datum": "R", "type": "nominal", "bandPosition": -0.11, "axis": null}, "y": {"datum": -2.5, "type": "quantitative", "axis": null}, "y2": {"datum": 2.5}}},
              {"transform": [{"filter": "datum.cond == 'R'"}], "mark": {"type": "text", "align": "right", "baseline": "middle", "dx": -11, "fontSize": 36, "color": "#231f20"},
               "encoding": {"x": {"datum": "R", "type": "nominal", "bandPosition": -0.11, "axis": null}, "y": {"datum": -0.55, "type": "quantitative", "axis": null}, "text": {"value": "5 µV"}}}
             ]}
          ]
        }
      ]
    }
  ],
  "config": {
    "font": "Liberation Sans",
    "view": {"stroke": null},
    "title": {"fontSize": 40, "fontWeight": "normal", "color": "#231f20", "font": "Liberation Sans"},
    "axis": {"domainColor": "#a6a6a6", "domainWidth": 1.2, "tickColor": "#b5b5b5", "tickSize": -5, "labelFontSize": 25, "labelColor": "#231f20", "labelFont": "Liberation Sans", "grid": false},
    "legend": {"orient": "none", "legendX": 463, "legendY": -206, "direction": "horizontal", "labelFontSize": 39, "labelLimit": 500, "labelFont": "Liberation Sans", "labelColor": "#231f20", "symbolType": "stroke", "symbolSize": 3000, "columnPadding": 27, "labelOffset": 14}
  }
}
